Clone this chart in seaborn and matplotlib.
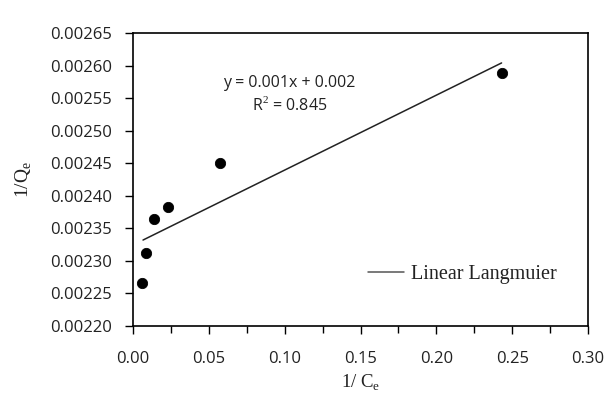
import numpy as np
import pandas as pd
import seaborn as sns
import matplotlib.pyplot as plt
from matplotlib.ticker import MultipleLocator, FormatStrFormatter

# datos
inv_ce = [0.0060, 0.0086, 0.0138, 0.0230, 0.0574, 0.2435]
inv_qe = [0.002266, 0.002312, 0.002364, 0.002383, 0.002450, 0.002589]

# recta de ajuste (extremos)
fit_x = [0.0066, 0.2430]
fit_y = [0.002332, 0.002604]

sns.set_theme(style='ticks')
plt.rcParams['font.family'] = ['Open Sans', 'DejaVu Sans']
plt.rcParams['mathtext.fontset'] = 'custom'
plt.rcParams['mathtext.rm'] = 'Liberation Serif'

df = pd.DataFrame({'x': inv_ce, 'y': inv_qe})
fit = pd.DataFrame({'x': fit_x, 'y': fit_y})

fig, ax = plt.subplots(figsize=(6.11, 3.96), dpi=100)
fig.subplots_adjust(left=0.2177, right=0.9624, top=0.9167, bottom=0.1768)

sns.lineplot(data=fit, x='x', y='y', ax=ax, color='#222222', linewidth=1.1,
             label='Linear Langmuier')
sns.scatterplot(data=df, x='x', y='y', ax=ax, color='black', s=55,
                edgecolor='black', legend=False, zorder=3)

ax.set_xlim(0, 0.30)
ax.set_ylim(0.0022, 0.00265)
ax.xaxis.set_major_locator(MultipleLocator(0.05))
ax.xaxis.set_minor_locator(MultipleLocator(0.025))
ax.yaxis.set_major_locator(MultipleLocator(0.00005))
ax.xaxis.set_major_formatter(FormatStrFormatter('%.2f'))
ax.yaxis.set_major_formatter(FormatStrFormatter('%.5f'))
ax.tick_params(axis='both', which='major', direction='out', length=6, width=1,
               labelsize=12, color='black', labelcolor='#222222')
ax.tick_params(axis='y', pad=9)
ax.tick_params(axis='x', which='minor', direction='out', length=5, width=1,
               color='black')
ax.tick_params(axis='x', pad=12)

for sp in ax.spines.values():
    sp.set_color('black')
    sp.set_linewidth(1.2)

ax.set_xlabel('1/ C$_\\mathregular{e}$', family='Liberation Serif', fontsize=13.5,
              color='#222222', labelpad=4)
ax.set_ylabel('1/Q$_\\mathregular{e}$', family='Liberation Serif', fontsize=14,
              color='#222222', labelpad=12)

ax.text(0.103, 0.002573, 'y = 0.001x + 0.002', fontsize=11.5, color='#222222',
        ha='center', va='center')
ax.text(0.103, 0.002540, 'R$^2$ = 0.845', fontsize=11.5, color='#222222',
        ha='center', va='center')

leg = ax.legend(loc='lower right', frameon=False, handlelength=1.8,
                handletextpad=0.35, bbox_to_anchor=(0.972, 0.08),
                prop={'family': 'Liberation Serif', 'size': 14.5})
leg.get_lines()[0].set_color('#555555')
for t in leg.get_texts():
    t.set_color('#222222')

plt.savefig('out.png', dpi=100)
